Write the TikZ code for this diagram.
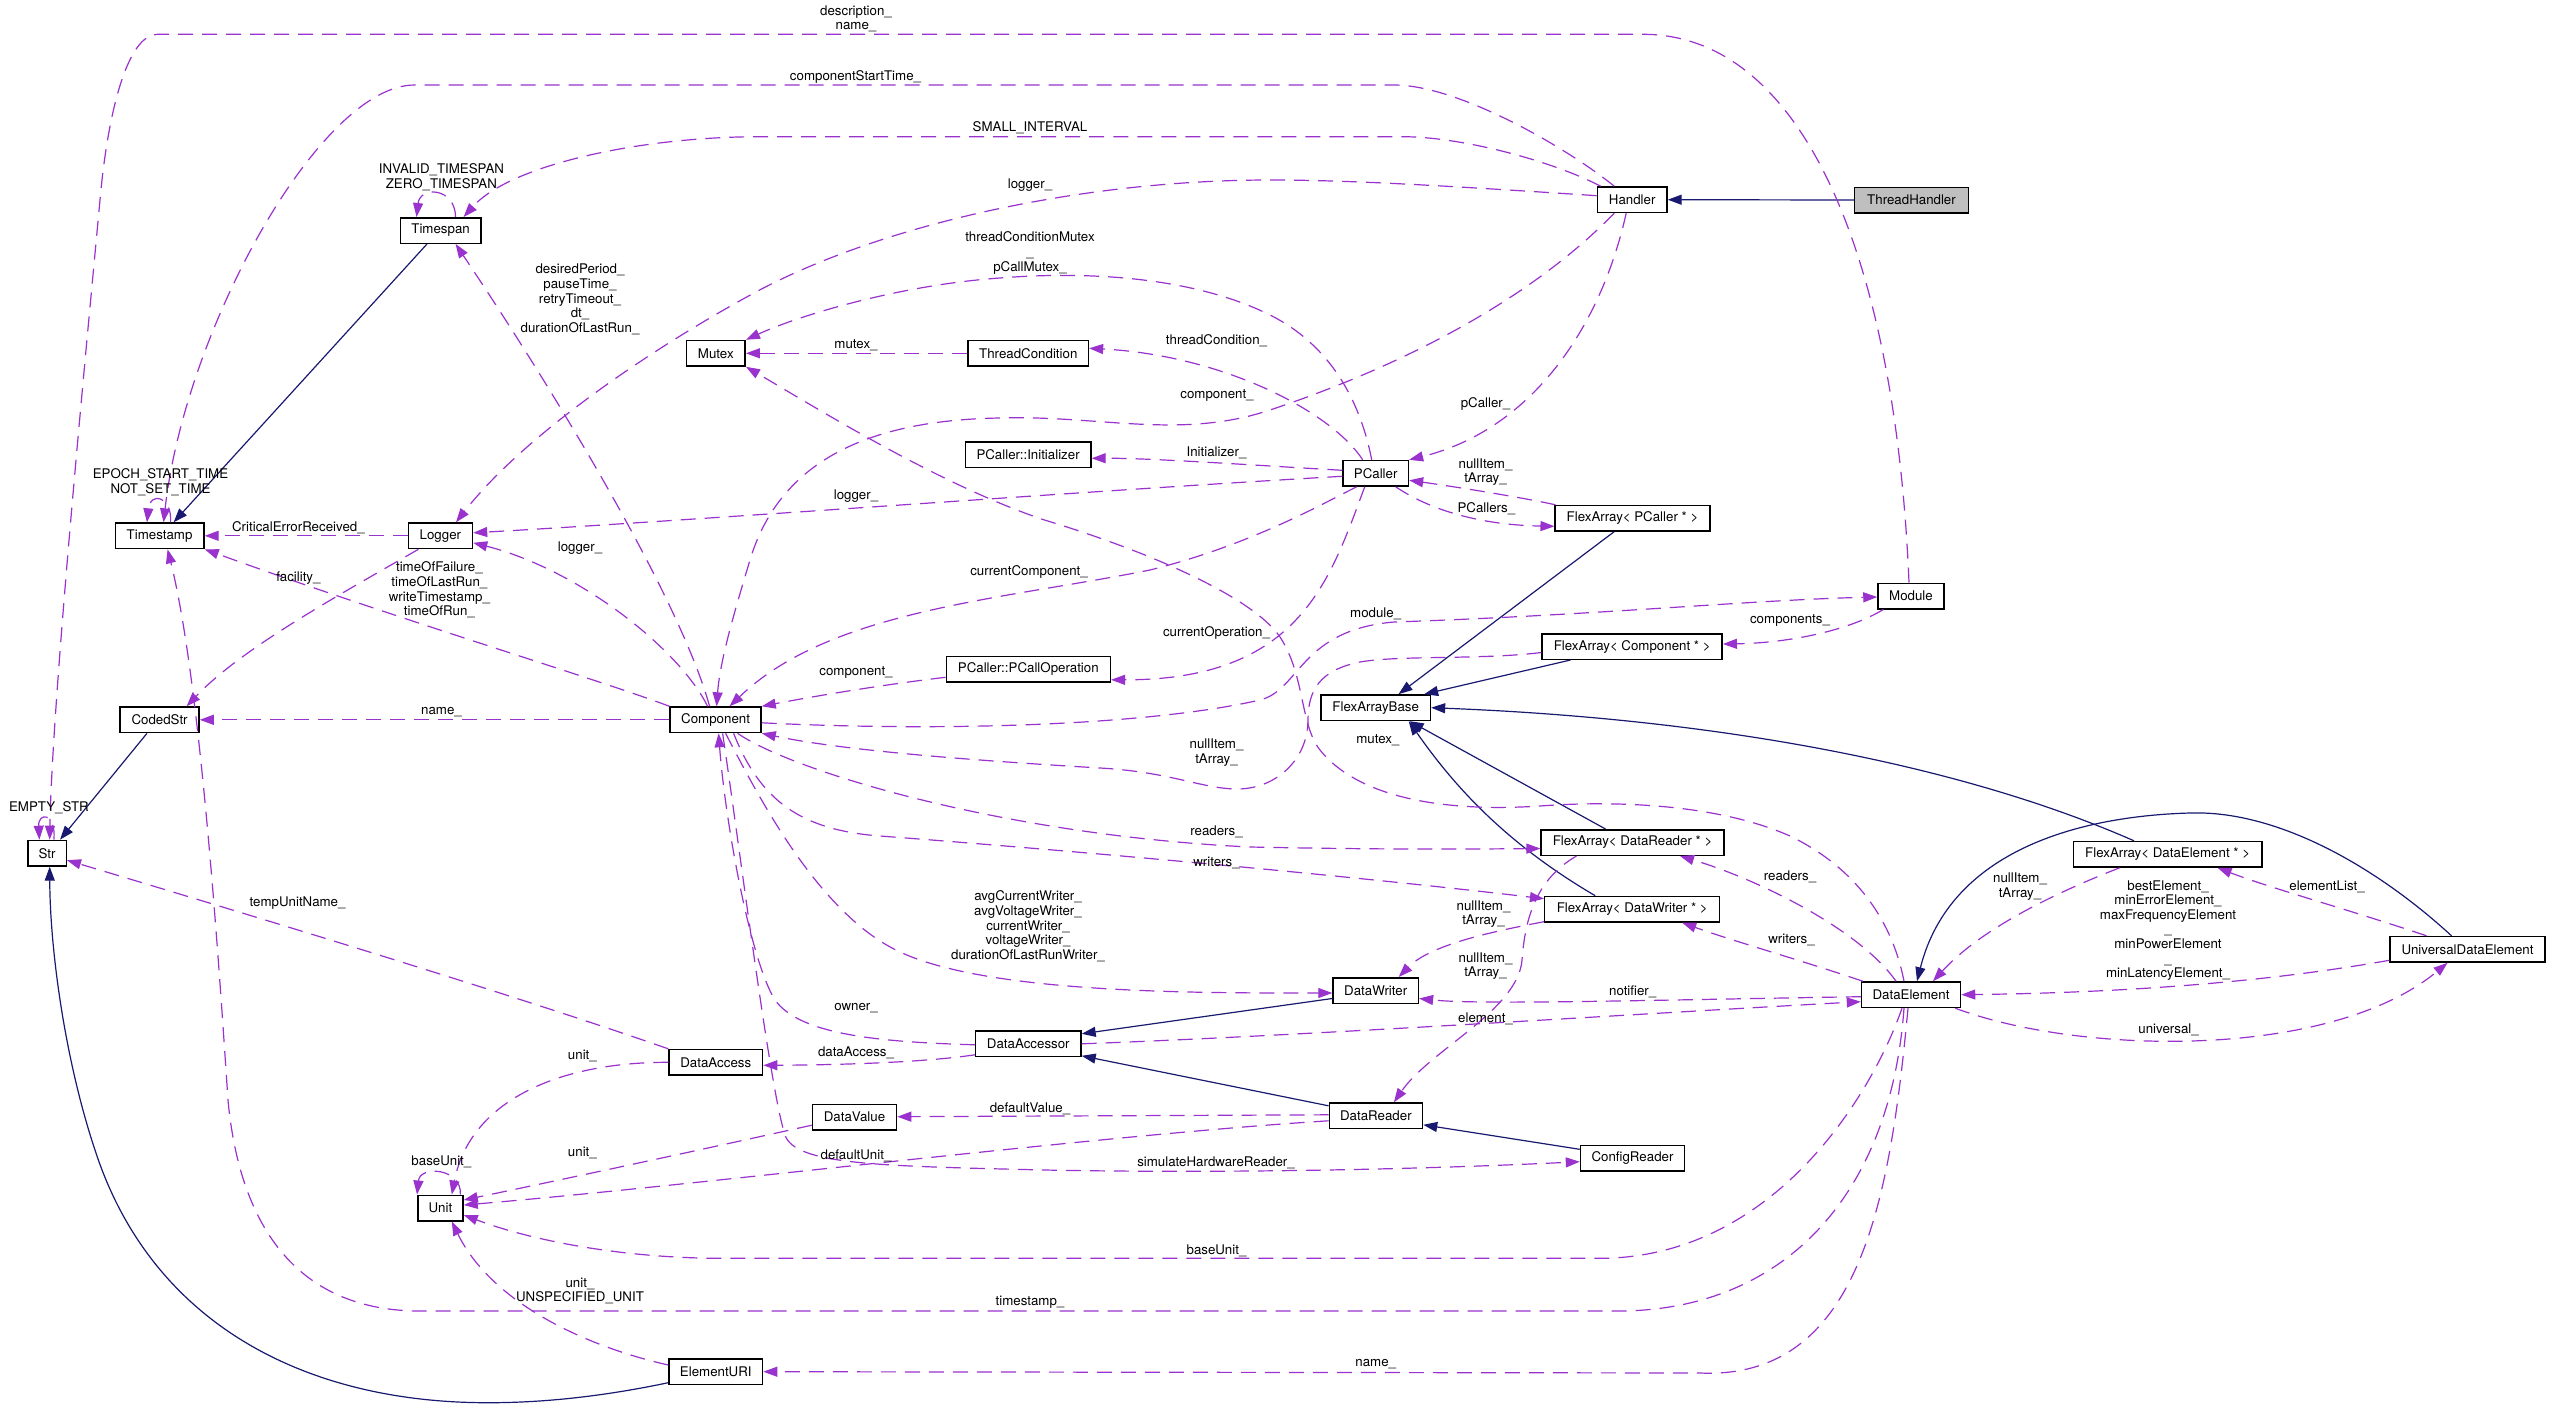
\documentclass[tikz,border=0pt]{standalone}
\usepackage{fontspec}
\setmainfont{TeX Gyre Heros}
\usetikzlibrary{calc,arrows.meta}
\definecolor{dcol}{HTML}{9A32CD}
\definecolor{icol}{HTML}{191970}
\definecolor{thgray}{HTML}{BFBFBF}
\newcommand{\lblfont}{\fontsize{13.3}{14.6}\selectfont}
\tikzset{
 box/.style={draw=black, fill=white, line width=1.5pt, minimum height=25.5pt, inner sep=0pt, font=\lblfont},
 lab/.style={font=\lblfont, align=center, inner sep=0pt},
 dep/.style={draw=dcol, line width=1.2pt, dash pattern=on 15pt off 9pt, -{Triangle[length=14pt,width=10pt]}},
 inh/.style={draw=icol, line width=1.2pt, -{Triangle[length=14pt,width=10pt]}},
}
\begin{document}
\begin{tikzpicture}[x=1pt,y=-1pt]
\path[fill=white, use as bounding box] (0,0) rectangle (2549,1408);
% nodes
\node[box, minimum width=80.4pt] (Timespan) at (440.6,230.5) {Timespan};
\node[box, minimum width=88.7pt] (Timestamp) at (159.6,535.8) {Timestamp};
\node[box, minimum width=64.2pt] (Logger) at (440.4,535.8) {Logger};
\node[box, minimum width=78.8pt] (CodedStr) at (159.6,719.8) {CodedStr};
\node[box, minimum width=38.5pt] (Str) at (47,853.2) {Str};
\node[box, minimum width=58.8pt] (Mutex) at (715.8,353.3) {Mutex};
\node[box, minimum width=120.2pt] (ThreadCondition) at (1028.3,353.3) {ThreadCondition};
\node[box, minimum width=125.6pt] (Init) at (1028.1,454.7) {PCaller::Initializer};
\node[box, minimum width=69.5pt] (Handler) at (1632.2,199.7) {Handler};
\node[box, minimum width=114pt, fill=thgray] (ThreadHandler) at (1911.5,200) {ThreadHandler};
\node[box, minimum width=65.4pt] (PCaller) at (1375.7,473.3) {PCaller};
\node[box, minimum width=154.6pt] (FAPC) at (1632.5,518.3) {FlexArray< PCaller * >};
\node[box, minimum width=66pt] (Module) at (1911,596) {Module};
\node[box, minimum width=180pt] (FACo) at (1632.2,646.5) {FlexArray< Component * >};
\node[box, minimum width=109.4pt] (FAB) at (1375.7,707.7) {FlexArrayBase};
\node[box, minimum width=182.8pt] (FADR) at (1632.5,842.5) {FlexArray< DataReader * >};
\node[box, minimum width=175pt] (FADW) at (1632.2,909.2) {FlexArray< DataWriter * >};
\node[box, minimum width=188.6pt] (FADE) at (2167.6,854.3) {FlexArray< DataElement * >};
\node[box, minimum width=155pt] (UDE) at (2467.5,949.3) {UniversalDataElement};
\node[box, minimum width=85.4pt] (DataWriter) at (1375.7,990.5) {DataWriter};
\node[box, minimum width=99pt] (DataElement) at (1911,994.7) {DataElement};
\node[box, minimum width=93.2pt] (DataReader) at (1375.9,1115.8) {DataReader};
\node[box, minimum width=104pt] (ConfigReader) at (1632.5,1158.3) {ConfigReader};
\node[box, minimum width=105.3pt] (DataAccessor) at (1028.3,1043.8) {DataAccessor};
\node[box, minimum width=93.6pt] (DataAccess) at (715.8,1062.3) {DataAccess};
\node[box, minimum width=84.1pt] (DataValue) at (854.5,1117.2) {DataValue};
\node[box, minimum width=93.6pt] (ElementURI) at (715.8,1371.7) {ElementURI};
\node[box, minimum width=45.2pt] (Unit) at (440.4,1208) {Unit};
\node[box, minimum width=90.8pt] (Component) at (715.6,719.8) {Component};
\node[box, minimum width=164pt] (PCallOp) at (1028.3,669.3) {PCaller::PCallOperation};
% inheritance
\draw[inh] (ThreadHandler.west) -- (Handler.east);
\draw[inh] ($(Timespan.south)+(-13.6,0)$) -- ($(Timestamp.north)+(14,0)$);
\draw[inh] ($(CodedStr.south)+(-12.6,0)$) -- ($(Str.north)+(13,0)$);
\draw[inh] ($(ElementURI.west)+(0,11)$) .. controls (600,1397) and (540,1403) .. (485,1402.7) .. controls (300,1402) and (150,1320) .. (95,1150) .. controls (65,1060) and (50,950) .. ($(Str.south)+(2.7,0)$);
\draw[inh] ($(FAPC.south)+(-18.5,0)$) -- ($(FAB.north)+(22.8,0)$);
\draw[inh] ($(FACo.south)+(-61.7,0)$) -- ($(FAB.north east)+(-7,0)$);
\draw[inh] ($(FADR.north)+(-27,0)$) -- ($(FAB.south)+(34,0)$);
\draw[inh] ($(FADW.north)+(-37,0)$) .. controls (1500,840) and (1450,780) .. ($(FAB.south)+(33,0)$);
\draw[inh] ($(FADE.north)+(-33.6,0)$) .. controls (1950,760) and (1700,718) .. (FAB.east);
\draw[inh] ($(UDE.north)+(-16,0)$) .. controls (2380,870) and (2280,810) .. (2190,813) .. controls (2080,816) and (1950,850) .. ($(DataElement.north)+(6,0)$);
\draw[inh] ($(DataWriter.west)+(0,8)$) -- ($(DataAccessor.east)+(0,-10)$);
\draw[inh] ($(DataReader.west)+(0,-10)$) -- ($(DataAccessor.east)+(0,12)$);
\draw[inh] ($(ConfigReader.west)+(0,-9)$) -- ($(DataReader.east)+(0,9)$);
% dependencies
\draw[dep] ($(Module.north)+(-2,0)$) .. controls (1895,250) and (1800,34.3) .. (1643,34.3) -- (157.5,34.3) .. controls (128,34.3) and (108,110) .. (100,200) .. controls (88,330) and (52,700) .. ($(Str.north)+(2.7,0)$);
\draw[dep] ($(Handler.north)+(-18,0)$) .. controls (1570,150) and (1460,85) .. (1394,85) -- (414.5,85) .. controls (320,85) and (185,330) .. ($(Timestamp.north)+(4,0)$);
\draw[dep] ($(Handler.north west)+(4,0)$) .. controls (1550,160) and (1460,136.7) .. (1402.6,136.7) -- (760,136.7) .. controls (640,136.7) and (510,165) .. ($(Timespan.north)+(23,0)$);
\draw[dep] ($(Timespan.north)+(15,0)$) .. controls (455,187) and (420,186) .. ($(Timespan.north)+(-24,0)$);
\draw[dep] ($(Handler.west)+(0,-4)$) .. controls (1450,186) and (1350,180) .. (1270,180) .. controls (1080,180) and (880,225) .. (754,293) .. controls (640,355) and (520,440) .. ($(Logger.north)+(15.6,0)$);
\draw[dep] ($(Handler.south)+(-18,0)$) .. controls (1540,290) and (1420,360) .. (1270,410) .. controls (1180,440) and (1100,415) .. (1000,418) .. controls (870,420) and (780,460) .. (750,560) .. controls (735,610) and (720,660) .. ($(Component.north)+(1,0)$);
\draw[dep] ($(Handler.south)+(-6,0)$) .. controls (1600,330) and (1530,430) .. (PCaller.north east);
\draw[dep] ($(PCaller.north)+(-4,0)$) .. controls (1360,400) and (1330,345) .. (1270,315) .. controls (1200,280) and (1100,270) .. (1000,278) .. controls (900,285) and (800,315) .. (Mutex.north east);
\draw[dep] ($(PCaller.north)+(-13,0)$) .. controls (1330,410) and (1220,355) .. ($(ThreadCondition.east)+(0,-5)$);
\draw[dep] (ThreadCondition.west) -- (Mutex.east);
\draw[dep] ($(PCaller.west)+(0,-3)$) .. controls (1250,465) and (1150,458) .. ($(Init.east)+(0,3.6)$);
\draw[dep] ($(PCaller.west)+(0,3)$) .. controls (1100,490) and (700,520) .. ($(Logger.east)+(0,-3)$);
\draw[dep] ($(Component.north)+(-8,0)$) .. controls (680,650) and (580,570) .. ($(Logger.east)+(0,7)$);
\draw[dep] ($(Component.north)+(-6,0)$) .. controls (680,600) and (560,400) .. ($(Timespan.south)+(15,0)$);
\draw[dep] (Component.north west) .. controls (600,680) and (400,620) .. (Timestamp.south east);
\draw[dep] (Logger.west) -- (Timestamp.east);
\draw[dep] ($(Logger.south)+(-22,0)$) .. controls (330,600) and (240,650) .. ($(CodedStr.north)+(27,0)$);
\draw[dep] (Component.west) -- (CodedStr.east);
\draw[dep] (DataAccess.north west) .. controls (500,990) and (200,900) .. ($(Str.east)+(0,7)$);
\draw[dep] ($(FAPC.north west)+(1,0)$) .. controls (1520,497) and (1450,486) .. ($(PCaller.east)+(0,7)$);
\draw[dep] ($(PCaller.south)+(20,0)$) .. controls (1430,510) and (1480,525) .. ($(FAPC.west)+(0,8)$);
\draw[dep] ($(PCaller.south)+(-19,0)$) .. controls (1320,505) and (1250,545) .. (1150,570) .. controls (1000,600) and (830,610) .. ($(Component.north)+(14,0)$);
\draw[dep] ($(PCaller.south)+(-11,0)$) .. controls (1330,580) and (1300,680) .. ($(PCallOp.south east)+(0,-3)$);
\draw[dep] ($(PCallOp.west)+(0,8)$) .. controls (880,685) and (810,697) .. (Component.north east);
\draw[dep] ($(Component.east)+(0,3)$) .. controls (950,732) and (1150,725) .. (1260,700) .. controls (1300,690) and (1300,630) .. (1394,622) .. controls (1600,615) and (1750,600) .. ($(Module.west)+(0,1)$);
\draw[dep] ($(Module.south west)+(6,0)$) .. controls (1850,630) and (1790,643) .. ($(FACo.east)+(0,-2.5)$);
\draw[dep] ($(FACo.west)+(0,6)$) .. controls (1480,660) and (1400,655) .. (1360,662) .. controls (1320,670) and (1308,690) .. (1308,720) .. controls (1308,760) and (1275,790) .. (1235,789) .. controls (1200,788) and (1170,772) .. (1100,768) .. controls (1000,762) and (850,752) .. (Component.south east);
\draw[dep] ($(DataElement.north)+(-7,0)$) .. controls (1893,925) and (1860,870) .. (1790,836) .. controls (1720,805) and (1620,800) .. (1540,806) .. controls (1450,812) and (1360,800) .. (1320,750) .. controls (1300,725) and (1305,675) .. (1280,637) .. controls (1255,600) and (1160,555) .. (1044.5,520) .. controls (940,485) and (820,410) .. (Mutex.south east);
\draw[dep] ($(DataElement.north)+(-15,0)$) .. controls (1860,930) and (1760,880) .. ($(FADR.south)+(47.5,0)$);
\draw[dep] ($(DataElement.north west)+(2,0)$) .. controls (1800,960) and (1730,940) .. ($(FADW.south)+(50,0)$);
\draw[dep] ($(FADR.south)+(-56,0)$) .. controls (1535,880) and (1525,920) .. (1522,960) .. controls (1518,1010) and (1430,1050) .. ($(DataReader.north)+(18,0)$);
\draw[dep] ($(FADW.south west)+(0,-1)$) .. controls (1490,932) and (1430,945) .. ($(DataWriter.north)+(23,0)$);
\draw[dep] (DataAccessor.east) .. controls (1300,1036) and (1650,1013) .. ($(DataElement.west)+(0,7)$);
\draw[dep] ($(DataElement.west)+(0,2)$) .. controls (1650,1000) and (1480,1005) .. ($(DataWriter.east)+(0,8)$);
\draw[dep] ($(DataElement.south)+(-9,0)$) .. controls (1870,1100) and (1770,1258) .. (1600,1258.3) -- (720,1258.3) .. controls (620,1258) and (530,1240) .. ($(Unit.east)+(0,7)$);
\draw[dep] ($(DataElement.south)+(-7,0)$) .. controls (1890,1200) and (1780,1310) .. (1620,1311) -- (420,1311) .. controls (300,1311) and (240,1230) .. (228,1100) .. controls (218,950) and (200,680) .. ($(Timestamp.south)+(8,0)$);
\draw[dep] ($(DataElement.south)+(-3,0)$) .. controls (1890,1200) and (1860,1380) .. (1700,1373) -- (ElementURI.east);
\draw[dep] ($(ElementURI.west)+(0,-6.7)$) .. controls (580,1345) and (490,1300) .. ($(Unit.south)+(11.4,0)$);
\draw[dep] ($(DataAccessor.west)+(0,11)$) .. controls (920,1063) and (830,1065) .. ($(DataAccess.east)+(0,3)$);
\draw[dep] ($(DataAccessor.west)+(0,1)$) .. controls (880,1042) and (800,1035) .. (775,1000) .. controls (750,960) and (725,820) .. ($(Component.south)+(3,0)$);
\draw[dep] ($(Component.south)+(7,0)$) .. controls (740,850) and (770,1090) .. (785,1135) .. controls (795,1165) and (880,1166) .. (1044.5,1170) .. controls (1250,1174) and (1450,1168) .. ($(ConfigReader.west)+(0,3.4)$);
\draw[dep] ($(Component.south)+(10,0)$) .. controls (760,800) and (820,915) .. (900,952) .. controls (990,994) and (1200,993) .. ($(DataWriter.west)+(0,2.5)$);
\draw[dep] ($(Component.south)+(22,0)$) .. controls (790,770) and (1000,835) .. (1250,847) .. controls (1400,850) and (1480,849) .. ($(FADR.west)+(0,6)$);
\draw[dep] ($(Component.south)+(18,0)$) .. controls (760,800) and (800,830) .. (880,836) .. controls (1000,845) and (1300,870) .. ($(FADW.north west)+(0,3)$);
\draw[dep] ($(FADE.south)+(-48,0)$) .. controls (2050,895) and (1980,930) .. ($(DataElement.north)+(22,0)$);
\draw[dep] ($(UDE.north)+(-41,0)$) .. controls (2350,910) and (2270,888) .. ($(FADE.south)+(50,0)$);
\draw[dep] ($(UDE.west)+(0,11)$) .. controls (2250,985) and (2100,993) .. (DataElement.east);
\draw[dep] ($(DataElement.south east)+(-6,0)$) .. controls (2080,1055) and (2330,1060) .. ($(UDE.south)+(-20,0)$);
\draw[dep] ($(DataReader.west)+(0,-1)$) -- ($(DataValue.east)+(0,-0.5)$);
\draw[dep] ($(DataReader.west)+(0,5)$) .. controls (1100,1135) and (700,1185) .. ($(Unit.east)+(0,-3)$);
\draw[dep] ($(DataValue.west)+(0,8)$) .. controls (700,1150) and (560,1180) .. ($(Unit.east)+(0,-8)$);
\draw[dep] (DataAccess.west) .. controls (560,1062) and (470,1100) .. ($(Unit.north)+(11.4,0)$);
\draw[dep] ($(Unit.north)+(20,0)$) .. controls (462,1168) and (420,1165) .. (Unit.north west);
\draw[dep] ($(Str.north)+(7,0)$) .. controls (56,812) and (38,812) .. ($(Str.north)+(-7.6,0)$);
\draw[dep] ($(Timestamp.north)+(11,0)$) .. controls (172,495) and (150,492) .. ($(Timestamp.north)+(-12.6,0)$);
% labels
\node[lab] (l1) at (856,19) {description\_\\name\_};
\node[lab] (l2) at (855.5,76.7) {componentStartTime\_};
\node[lab] (l3) at (1030,128) {SMALL\_INTERVAL};
\node[lab] (l4) at (441.4,177.5) {INVALID\_TIMESPAN\\ZERO\_TIMESPAN};
\node[lab] (l5) at (1030,185) {logger\_};
\node[lab] (l6) at (1030,252.9) {threadConditionMutex\\\_\\pCallMutex\_};
\node[lab] (l7) at (580,299.5) {desiredPeriod\_\\pauseTime\_\\retryTimeout\_\\dt\_\\durationOfLastRun\_};
\node[lab] (l8) at (856,345) {mutex\_};
\node[lab] (l9) at (1216.5,340.7) {threadCondition\_};
\node[lab] (l10) at (1217,396) {component\_};
\node[lab] (l11) at (1485.5,404) {pCaller\_};
\node[lab] (l12) at (1216.5,452.7) {Initializer\_};
\node[lab] (l13) at (1485.5,472) {nullItem\_\\tArray\_};
\node[lab] (l14) at (1486.4,509) {PCallers\_};
\node[lab] (l15) at (160.5,482.5) {EPOCH\_START\_TIME\\NOT\_SET\_TIME};
\node[lab] (l16) at (298.4,527.7) {CriticalErrorReceived\_};
\node[lab] (l17) at (580,548) {logger\_};
\node[lab] (l18) at (856,496) {logger\_};
\node[lab] (l19) at (298.4,578.3) {facility\_};
\node[lab] (l20) at (439.4,590) {timeOfFailure\_\\timeOfLastRun\_\\writeTimestamp\_\\timeOfRun\_};
\node[lab] (l21) at (1029,571.7) {currentComponent\_};
\node[lab] (l22) at (1375.7,614.3) {module\_};
\node[lab] (l23) at (1790,621) {components\_};
\node[lab] (l24) at (1216.5,632.7) {currentOperation\_};
\node[lab] (l25) at (856,672.3) {component\_};
\node[lab] (l26) at (441.5,711.7) {name\_};
\node[lab] (l27) at (1216.5,752.5) {nullItem\_\\tArray\_};
\node[lab] (l28) at (1377.8,740) {mutex\_};
\node[lab] (l29) at (48.9,807.7) {EMPTY\_STR};
\node[lab] (l30) at (1216.5,831.7) {readers\_};
\node[lab] (l31) at (1216.5,862.7) {writers\_};
\node[lab] (l32) at (1790,876.7) {readers\_};
\node[lab] (l33) at (2020,886.5) {nullItem\_\\tArray\_};
\node[lab] (l34) at (2168,930.5) {bestElement\_\\minErrorElement\_\\maxFrequencyElement\\\_\\minPowerElement\hspace*{30pt}\\\_\\minLatencyElement\_};
\node[lab] (l35) at (2327,886.7) {elementList\_};
\node[lab] (l36) at (297.6,903.3) {tempUnitName\_};
\node[lab] (l37) at (1028,926.3) {avgCurrentWriter\_\\avgVoltageWriter\_\\currentWriter\_\\voltageWriter\_\\durationOfLastRunWriter\_};
\node[lab] (l38) at (1483.5,914) {nullItem\_\\tArray\_};
\node[lab] (l39) at (1791.5,940) {writers\_};
\node[lab] (l40) at (1485.5,966) {nullItem\_\\tArray\_};
\node[lab] (l41) at (1632.7,991.7) {notifier\_};
\node[lab] (l42) at (1485.5,1019) {element\_};
\node[lab] (l43) at (2168.6,1030) {universal\_};
\node[lab] (l44) at (856,1008.3) {owner\_};
\node[lab] (l45) at (856,1052.7) {dataAccess\_};
\node[lab] (l46) at (582.4,1056) {unit\_};
\node[lab] (l47) at (1030,1109) {defaultValue\_};
\node[lab] (l48) at (582.4,1152.7) {unit\_};
\node[lab] (l49) at (441.4,1162.3) {baseUnit\_};
\node[lab] (l50) at (856,1155.7) {defaultUnit\_};
\node[lab] (l51) at (1216,1163.3) {simulateHardwareReader\_};
\node[lab] (l52) at (1216.5,1250.7) {baseUnit\_};
\node[lab] (l53) at (580,1291) {unit\_\\UNSPECIFIED\_UNIT};
\node[lab] (l54) at (1030,1302.7) {timestamp\_};
\node[lab] (l55) at (1375.7,1364) {name\_};
\end{tikzpicture}
\end{document}
